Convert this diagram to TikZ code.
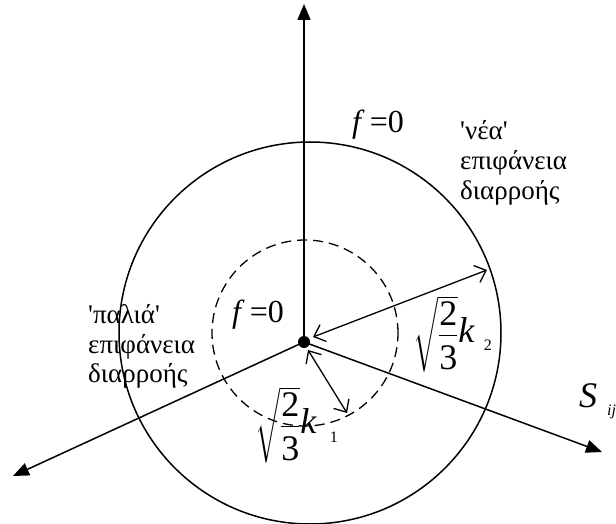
\documentclass[tikz,border=0pt]{standalone}
\usepackage{amsmath}
\usepackage{fontspec}
\setmainfont{Liberation Serif}
\usetikzlibrary{arrows.meta}
\newcommand{\radfrac}{$\sqrt{\dfrac{\text{2}}{\rule{0pt}{30pt}\text{3}}}$}
\begin{document}
\begin{tikzpicture}[x=1pt,y=-1pt,
  axis/.style={line width=1.5pt,-{Triangle[length=16pt,width=13pt]}},
  solidcirc/.style={circle,draw,line width=1.5pt,inner sep=0pt},
  dashcirc/.style={circle,draw,line width=1.3pt,dash pattern=on 10pt off 6pt,inner sep=0pt},
  dbl/.style={line width=1.3pt,{Straight Barb[length=10pt,width=18pt]}-{Straight Barb[length=10pt,width=18pt]}},
  greek/.style={inner sep=0pt,anchor=base west,font=\fontsize{27}{32}\selectfont},
  feq/.style={inner sep=0pt,anchor=base west,font=\fontsize{32}{36}\selectfont},
  rad/.style={inner sep=0pt,anchor=base west,font=\fontsize{36}{40}\selectfont}]
\useasboundingbox (0,0) rectangle (616,524);
% circles
\node[solidcirc,minimum size=382pt] (C) at (310,333) {};
\node[dashcirc,minimum size=186pt] (D) at (305,333) {};
% origin and axes
\node[circle,fill,inner sep=0pt,minimum size=12pt] (O) at (304,342) {};
\coordinate (Up) at (304,4);
\coordinate (L) at (13,476);
\coordinate (R) at (602,452);
\draw[axis] (O.center) -- (Up);
\draw[axis] (O.center) -- (L);
\draw[axis] (O.center) -- (R);
% radius arrows
\coordinate (A1) at (313,337);
\coordinate (A2) at (487,270);
\coordinate (B1) at (308,350);
\coordinate (B2) at (347,413);
\draw[dbl] (A1) -- (A2);
\draw[dbl] (B1) -- (B2);
% labels
\node[feq] (f1) at (352,133) {\textit{f}\hspace{5pt}=0};
\node[feq] (f2) at (232,322) {\textit{f}\hspace{5pt}=0};
\node[greek] (nea1) at (460,140) {\textquotesingle νέα\textquotesingle};
\node[greek] (nea2) at (460,170) {επιφάνεια};
\node[greek] (nea3) at (460,199) {διαρροής};
\node[greek] (pal1) at (88,323) {\textquotesingle παλιά\textquotesingle};
\node[greek] (pal2) at (88,353) {επιφάνεια};
\node[greek] (pal3) at (88,382) {διαρροής};
\node[rad] (k2) at (413,342) {\radfrac\textit{k}\hspace{9pt}\raisebox{-8pt}{\fontsize{16}{16}\selectfont 2}};
\node[rad] (k1) at (255,433) {\radfrac\textit{k}\hspace{13pt}\raisebox{-9pt}{\fontsize{16}{16}\selectfont 1}};
\node[rad] (S) at (579,407) {\textit{S}\hspace{10pt}\raisebox{-8pt}{\fontsize{16}{16}\selectfont\textit{ij}}};
\end{tikzpicture}
\end{document}
